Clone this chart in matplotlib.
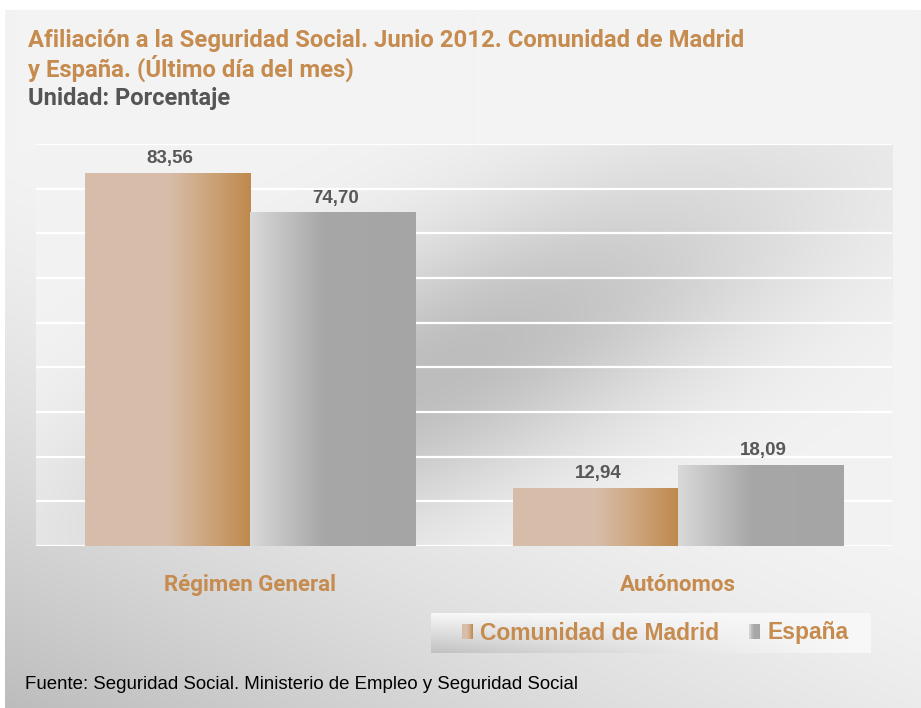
import numpy as np
import matplotlib
matplotlib.use('Agg')
import matplotlib.pyplot as plt
from matplotlib import font_manager as fm
from matplotlib.patches import Rectangle
from matplotlib.legend_handler import HandlerBase
from matplotlib.colors import LinearSegmentedColormap

# ---------------- data ----------------
categories = ['Régimen General', 'Autónomos']
series_names = ['Comunidad de Madrid', 'España']
madrid = [83.56, 12.94]
espana = [74.70, 18.09]
value_labels_madrid = ['83,56', '12,94']
value_labels_espana = ['74,70', '18,09']
y_ticks = [0, 10, 20, 30, 40, 50, 60, 70, 80, 90]

title_lines = ['Afiliación a la Seguridad Social. Junio 2012. Comunidad de Madrid',
               'y España. (Último día del mes)']
unit_text = 'Unidad: Porcentaje'
source_text = 'Fuente: Seguridad Social. Ministerio de Empleo y Seguridad Social'

# ---------------- fonts ----------------
def has_font(name):
    try:
        fm.findfont(fm.FontProperties(family=name), fallback_to_default=False)
        return True
    except Exception:
        return False

NARROW = 'Liberation Sans Narrow' if has_font('Liberation Sans Narrow') else 'Liberation Sans'
COND = 'Roboto' if has_font('Roboto') else 'Liberation Sans'
ARIAL = 'Liberation Sans'

ORANGE = '#c68b4e'
DARK = '#585858'

W, H = 921, 708
fig = plt.figure(figsize=(W / 100, H / 100), dpi=100)
fig.patch.set_facecolor('white')

# ---------------- figure background gradient ----------------
bg = fig.add_axes([0, 0, 1, 1], zorder=-10)
yy, xx = np.mgrid[0:H, 0:W]
t = yy / H - 0.6 * xx / W
f = np.clip((t - 0.2) / 0.8, 0, 1) ** 1.4
val = (243 - 55 * f) / 255.0
img = np.dstack([val, val, val])
img[:10, :, :] = 1.0
img[:, :5, :] = 1.0
bg.imshow(img, extent=[0, 1, 0, 1], aspect='auto', origin='upper', interpolation='bilinear')
bg.set_xlim(0, 1)
bg.set_ylim(0, 1)
bg.set_axis_off()

# ---------------- plot area ----------------
ax_l, ax_r, ax_t, ax_b = 36, 892, 144, 546
ax = fig.add_axes([ax_l / W, 1 - ax_b / H, (ax_r - ax_l) / W, (ax_b - ax_t) / H])
ax.set_facecolor('#f2f2f2')

pw, ph = ax_r - ax_l, ax_b - ax_t
Y, X = np.mgrid[0:ph, 0:pw]
dx = X - 404.0
dy = Y - 226.0
proj = dx * 0.899 - dy * 0.438
perp = dx * 0.438 + dy * 0.899
g = np.exp(-0.5 * (proj / 270.0) ** 2 - 0.5 * (perp / 88.0) ** 2)
pv = (243 - 54 * g) / 255.0
pimg = np.dstack([pv, pv, pv])

xlim = (-0.5, len(categories) - 0.5)
ylim = (y_ticks[0], y_ticks[-1])
ax.imshow(pimg, extent=[xlim[0], xlim[1], ylim[0], ylim[1]], aspect='auto',
          origin='upper', zorder=0, interpolation='bilinear')

ax.set_yticks(y_ticks)
ax.yaxis.grid(True, color='white', lw=1.6, zorder=0.5)
ax.set_axisbelow(True)
for s in ax.spines.values():
    s.set_visible(False)
ax.tick_params(axis='y', length=0, labelleft=False)

x = np.arange(len(categories))
bw = 0.386
b1 = ax.bar(x - bw / 2, madrid, bw, color='none', edgecolor='none', zorder=2)
b2 = ax.bar(x + bw / 2, espana, bw, color='none', edgecolor='none', zorder=2)

cmap_m = LinearSegmentedColormap.from_list('m', [(0, '#d7bcaa'), (0.5, '#d7bdaa'),
                                                 (0.66, '#d1ae8c'), (1, '#bf894c')])
cmap_e = LinearSegmentedColormap.from_list('e', [(0, '#d9d9d9'), (0.44, '#a7a7a7'),
                                                 (1, '#a5a5a5')])


def grad_fill(rect, cmap):
    x0, y0 = rect.get_x(), rect.get_y()
    w, h = rect.get_width(), rect.get_height()
    grad = np.linspace(0, 1, 256).reshape(1, -1)
    im = ax.imshow(grad, cmap=cmap, extent=[x0, x0 + w, y0, y0 + h], aspect='auto',
                   zorder=2, interpolation='bilinear')
    im.set_clip_path(rect)


for r in b1:
    grad_fill(r, cmap_m)
for r in b2:
    grad_fill(r, cmap_e)

for bars, labels in ((b1, value_labels_madrid), (b2, value_labels_espana)):
    for r, lab in zip(bars, labels):
        ax.annotate(lab, (r.get_x() + r.get_width() / 2, r.get_height()),
                    xytext=(2, 7), textcoords='offset points', ha='center', va='baseline',
                    fontsize=13.5, fontweight='bold', color=DARK, family=ARIAL, zorder=3)

ax.set_xlim(*xlim)
ax.set_ylim(*ylim)
ax.set_xticks(x)
ax.set_xticklabels(categories, fontsize=16, fontweight='bold', color=ORANGE, family=COND)
ax.tick_params(axis='x', length=0, pad=20)

# ---------------- titles ----------------
fig.text(28 / W, 1 - 47 / H, title_lines[0], fontsize=17.2, fontweight='bold',
         color=ORANGE, family=COND, va='baseline')
fig.text(28 / W, 1 - 77 / H, title_lines[1], fontsize=17.2, fontweight='bold',
         color=ORANGE, family=COND, va='baseline')
fig.text(28 / W, 1 - 105 / H, unit_text, fontsize=17, fontweight='bold',
         color='#555555', family=COND, va='baseline')

# ---------------- legend ----------------
lg_l, lg_r, lg_t, lg_b = 431, 870, 613, 653
lax = fig.add_axes([lg_l / W, 1 - lg_b / H, (lg_r - lg_l) / W, (lg_b - lg_t) / H], zorder=1)
lh, lw_ = lg_b - lg_t, lg_r - lg_l
LY, LX = np.mgrid[0:lh, 0:lw_]
vy = LY / (lh - 1)
vx = LX / (lw_ - 1)
lv = (248 - 55 * vy * (1 - vx) ** 1.3) / 255.0
lax.imshow(np.dstack([lv, lv, lv]), extent=[0, 1, 0, 1], aspect='auto', origin='upper')
lax.set_axis_off()


class GradHandler(HandlerBase):
    def __init__(self, cmap):
        super().__init__()
        self.cmap = cmap

    def create_artists(self, legend, orig_handle, xdescent, ydescent, width, height,
                       fontsize, trans):
        n = 14
        arts = []
        for i in range(n):
            arts.append(Rectangle((-xdescent + width * i / n, -ydescent), width / n * 1.1,
                                  height, facecolor=self.cmap((i + 0.5) / n),
                                  edgecolor='none', transform=trans))
        return arts


h1 = Rectangle((0, 0), 1, 1)
h2 = Rectangle((0, 0), 1, 1)
leg = fig.legend([h1, h2], series_names, loc='center',
                 bbox_to_anchor=(655 / W, 1 - 633 / H), bbox_transform=fig.transFigure,
                 ncol=2, frameon=False, handler_map={h1: GradHandler(cmap_m), h2: GradHandler(cmap_e)},
                 prop=fm.FontProperties(family=ARIAL, weight='bold', size=16.5),
                 labelcolor=ORANGE, handlelength=0.5, handleheight=0.6,
                 handletextpad=0.3, columnspacing=1.3)
leg.set_zorder(5)

# ---------------- source ----------------
fig.text(25 / W, 1 - 689 / H, source_text, fontsize=15 if NARROW != 'Liberation Sans' else 13.4,
         color='black', family=NARROW, va='baseline')

fig.savefig('out.png', dpi=100, facecolor='white')
